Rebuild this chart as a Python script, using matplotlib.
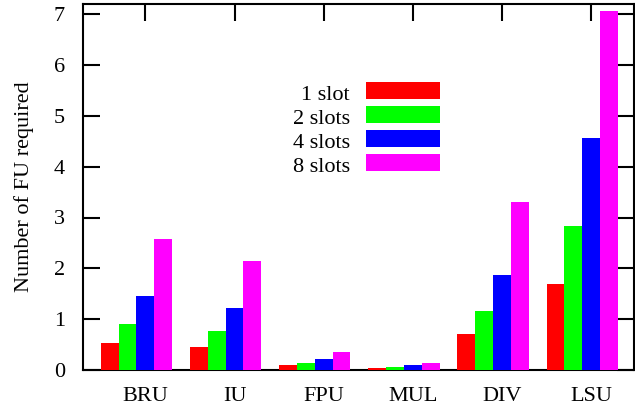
import matplotlib
matplotlib.use('Agg')
import matplotlib.pyplot as plt
import numpy as np
from matplotlib.patches import Rectangle

plt.rcParams['font.family'] = ['Liberation Serif', 'DejaVu Serif']
plt.rcParams['font.size'] = 16

# 数据
units = ['BRU', 'IU', 'FPU', 'MUL', 'DIV', 'LSU']
slot_labels = ['1 slot', '2 slots', '4 slots', '8 slots']
slot1 = [0.54, 0.45, 0.09, 0.03, 0.70, 1.70]
slot2 = [0.91, 0.76, 0.13, 0.05, 1.17, 2.83]
slot4 = [1.46, 1.22, 0.21, 0.09, 1.87, 4.56]
slot8 = [2.57, 2.15, 0.36, 0.13, 3.30, 7.07]
colors = ['#ff0000', '#00ff00', '#0000ff', '#ff00ff']

fig = plt.figure(figsize=(6.35, 4.08), dpi=100)
ax = fig.add_axes([83 / 635, 1 - 370 / 408, 551 / 635, 366 / 408])

x = np.arange(len(units))
width = 0.2
for j, (vals, c) in enumerate(zip([slot1, slot2, slot4, slot8], colors)):
    ax.bar(x + (j - 2) * width, vals, width, color=c, edgecolor='none', zorder=3)

ax.set_xlim(-0.7, 5.48)
ax.set_ylim(0, 7.2)
ax.set_xticks(x)
ax.set_xticklabels(units)
ax.set_yticks(range(8))
ax.set_axisbelow(True)
ax.tick_params(direction='in', length=12, width=1.5, top=True, right=True,
               labelsize=16, pad=13)
ax.tick_params(axis='x', pad=12, bottom=False)
for s in ax.spines.values():
    s.set_linewidth(1.5)
ax.set_ylabel('Number of FU required', fontsize=16)
ax.yaxis.set_label_coords(-0.089, 0.5)

# 图例
row_y = [0.7637, 0.6981, 0.6325, 0.5669]
for lab, c, yy in zip(slot_labels, colors, row_y):
    ax.text(0.4846, yy - 0.013, lab, transform=ax.transAxes, ha='right', va='center', fontsize=16)
    ax.add_patch(Rectangle((0.5136, yy - 0.0232), 0.1343, 0.0464, transform=ax.transAxes,
                           facecolor=c, edgecolor='none', zorder=4))

plt.savefig('out.png', dpi=100)
